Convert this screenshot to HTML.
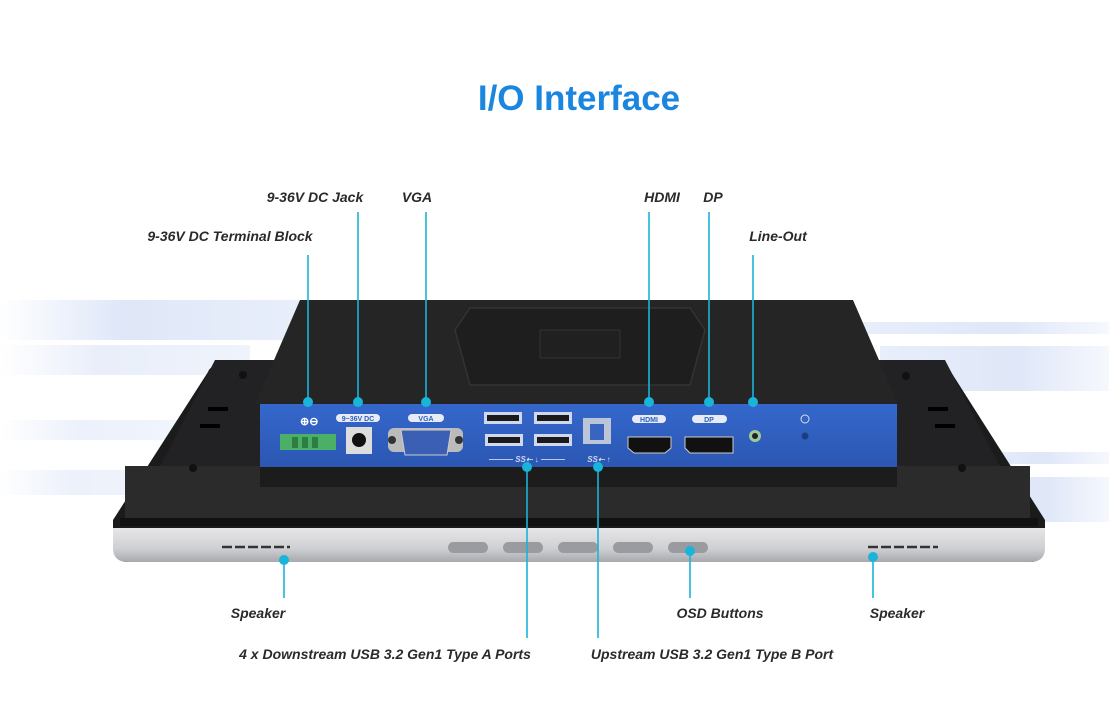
<!DOCTYPE html>
<html><head><meta charset="utf-8"><style>
html,body{margin:0;padding:0;background:#fff;}
svg{display:block;}
.l{font-family:"Liberation Sans",sans-serif;font-style:italic;font-weight:bold;font-size:14px;fill:#2a2a2a;}
.t{font-family:"Liberation Sans",sans-serif;font-size:7px;font-weight:bold;fill:#2e5fbf;}
</style></head><body>
<svg width="1109" height="703" viewBox="0 0 1109 703" xmlns="http://www.w3.org/2000/svg">
<defs>
<linearGradient id="sl" x1="0" x2="1"><stop offset="0" stop-color="#dfe7f8" stop-opacity="0"/><stop offset="0.4" stop-color="#dfe7f8"/><stop offset="1" stop-color="#e8eefa"/></linearGradient>
<linearGradient id="sr" x1="0" x2="1"><stop offset="0" stop-color="#e8eefa"/><stop offset="0.6" stop-color="#dfe7f8"/><stop offset="1" stop-color="#dfe7f8" stop-opacity="0.3"/></linearGradient>
<linearGradient id="sil" x1="0" y1="0" x2="0" y2="1"><stop offset="0" stop-color="#e6e6e8"/><stop offset="0.6" stop-color="#cfd0d3"/><stop offset="1" stop-color="#a8a9ad"/></linearGradient>
<linearGradient id="blu" x1="0" y1="0" x2="0" y2="1"><stop offset="0" stop-color="#3567cc"/><stop offset="1" stop-color="#2b57b2"/></linearGradient>
</defs>
<text x="579" y="110" text-anchor="middle" font-family="Liberation Sans,sans-serif" font-weight="bold" font-size="35" fill="#1a86e0">I/O Interface</text>
<!-- bg streaks -->
<rect x="0" y="300" width="300" height="40" fill="url(#sl)"/>
<rect x="0" y="345" width="250" height="30" fill="url(#sl)" opacity="0.7"/>
<rect x="0" y="420" width="200" height="20" fill="url(#sl)" opacity="0.6"/>
<rect x="0" y="470" width="180" height="25" fill="url(#sl)" opacity="0.6"/>
<rect x="860" y="322" width="249" height="12" fill="url(#sr)"/>
<rect x="880" y="346" width="229" height="45" fill="url(#sr)"/>
<rect x="950" y="452" width="159" height="12" fill="url(#sr)"/>
<rect x="950" y="477" width="159" height="45" fill="url(#sr)"/>
<!-- outer bezel -->
<path d="M208 372 Q210 366 218 366 L940 366 Q948 366 951 372 L1045 520 L1045 545 Q1045 562 1030 562 L128 562 Q113 562 113 545 L113 520 Z" fill="#1b1b1c"/>
<path d="M113 528 L1045 528 L1045 548 Q1045 562 1030 562 L128 562 Q113 562 113 548 Z" fill="url(#sil)"/>
<path d="M215 360 L945 360 L1020 505 L140 505 Z" fill="#222224"/>
<rect x="125" y="466" width="905" height="52" fill="#2b2b2c"/>
<rect x="120" y="518" width="918" height="8" fill="#111"/>
<!-- upper box -->
<path d="M300 300 L853 300 L898 404 L255 404 Z" fill="#252526"/>
<path d="M470 308 L690 308 L705 330 L690 385 L470 385 L455 330 Z" fill="#1e1e1f" stroke="#333" stroke-width="1.5"/>
<rect x="540" y="330" width="80" height="28" fill="#202021" stroke="#333"/>
<!-- blue panel -->
<rect x="260" y="404" width="637" height="63" fill="url(#blu)"/>
<rect x="260" y="467" width="637" height="20" fill="#1c1c1d"/>
<!-- screws -->
<g fill="#111"><circle cx="243" cy="375" r="4"/><circle cx="193" cy="468" r="4"/><circle cx="906" cy="376" r="4"/><circle cx="962" cy="468" r="4"/></g>
<g fill="#000"><rect x="208" y="407" width="20" height="4"/><rect x="200" y="424" width="20" height="4"/><rect x="928" y="407" width="20" height="4"/><rect x="935" y="424" width="20" height="4"/></g>
<!-- ports -->
<text x="300" y="425" font-size="11" fill="#fff" font-family="Liberation Sans" font-weight="bold">⊕⊖</text>
<rect x="280" y="434" width="56" height="16" fill="#4caf68"/>
<g fill="#2e7d42"><rect x="292" y="437" width="6" height="11"/><rect x="302" y="437" width="6" height="11"/><rect x="312" y="437" width="6" height="11"/></g>
<rect x="336" y="414" width="44" height="8" rx="4" fill="#e6ebf5"/><text class="t" x="358" y="421" text-anchor="middle">9~36V DC</text>
<rect x="346" y="427" width="26" height="27" fill="#ddd"/><circle cx="359" cy="440" r="7" fill="#111"/>
<rect x="408" y="414" width="36" height="8" rx="4" fill="#e6ebf5"/><text class="t" x="426" y="421" text-anchor="middle">VGA</text>
<rect x="388" y="428" width="75" height="24" rx="6" fill="#bbb"/><circle cx="392" cy="440" r="4" fill="#333"/><circle cx="459" cy="440" r="4" fill="#333"/>
<path d="M401 430 L451 430 L447 455 L405 455 Z" fill="#3a5fb5" stroke="#ccc"/>
<g fill="#cfd8ee"><rect x="484" y="412" width="38" height="12"/><rect x="534" y="412" width="38" height="12"/><rect x="485" y="434" width="38" height="12"/><rect x="534" y="434" width="38" height="12"/></g>
<g fill="#1a1a1a"><rect x="487" y="415" width="32" height="6"/><rect x="537" y="415" width="32" height="6"/><rect x="488" y="437" width="32" height="6"/><rect x="537" y="437" width="32" height="6"/></g>
<text x="527" y="462" font-size="8" fill="#cfd8ee" text-anchor="middle" font-family="Liberation Sans" font-style="italic" font-weight="bold">——— SS⇠ ↓ ———</text>
<rect x="583" y="418" width="28" height="26" fill="#bcc5d8"/><rect x="590" y="424" width="14" height="16" fill="#3a64c0"/>
<text x="599" y="462" font-size="8" fill="#cfd8ee" text-anchor="middle" font-family="Liberation Sans" font-style="italic" font-weight="bold">SS⇠ ↑</text>
<rect x="632" y="415" width="34" height="8" rx="4" fill="#e6ebf5"/><text class="t" x="649" y="422" text-anchor="middle">HDMI</text>
<path d="M628 437 L671 437 L671 448 L665 453 L634 453 L628 448 Z" fill="#111" stroke="#ccc"/>
<rect x="692" y="415" width="35" height="8" rx="4" fill="#e6ebf5"/><text class="t" x="709" y="422" text-anchor="middle">DP</text>
<path d="M685 437 L733 437 L733 453 L690 453 L685 448 Z" fill="#111" stroke="#ccc"/>
<circle cx="755" cy="436" r="6" fill="#9ccb9a"/><circle cx="755" cy="436" r="3" fill="#222"/>
<circle cx="805" cy="419" r="4" fill="none" stroke="#ddd"/><circle cx="805" cy="436" r="3.5" fill="#1a3d86"/>
<!-- buttons -->
<g fill="#9a9ba0"><rect x="448" y="542" width="40" height="11" rx="5.5"/><rect x="503" y="542" width="40" height="11" rx="5.5"/><rect x="558" y="542" width="40" height="11" rx="5.5"/><rect x="613" y="542" width="40" height="11" rx="5.5"/><rect x="668" y="542" width="40" height="11" rx="5.5"/></g>
<g stroke="#333" stroke-width="2.5" stroke-dasharray="10,3"><line x1="222" y1="547" x2="290" y2="547"/><line x1="868" y1="547" x2="938" y2="547"/></g>
<!-- leaders -->
<g stroke="#19b4d9" stroke-width="1.6" fill="none">
<line x1="308" y1="255" x2="308" y2="402"/><line x1="358" y1="212" x2="358" y2="402"/><line x1="426" y1="212" x2="426" y2="402"/>
<line x1="649" y1="212" x2="649" y2="402"/><line x1="709" y1="212" x2="709" y2="402"/><line x1="753" y1="255" x2="753" y2="402"/>
<line x1="527" y1="467" x2="527" y2="638"/><line x1="598" y1="467" x2="598" y2="638"/>
<line x1="284" y1="560" x2="284" y2="598"/><line x1="690" y1="551" x2="690" y2="598"/><line x1="873" y1="557" x2="873" y2="598"/>
</g>
<g fill="#19b4d9">
<circle cx="308" cy="402" r="5"/><circle cx="358" cy="402" r="5"/><circle cx="426" cy="402" r="5"/><circle cx="649" cy="402" r="5"/><circle cx="709" cy="402" r="5"/><circle cx="753" cy="402" r="5"/>
<circle cx="527" cy="467" r="5"/><circle cx="598" cy="467" r="5"/><circle cx="284" cy="560" r="5"/><circle cx="690" cy="551" r="5"/><circle cx="873" cy="557" r="5"/>
</g>
<!-- labels -->
<text class="l" x="230" y="241" text-anchor="middle">9-36V DC Terminal Block</text>
<text class="l" x="315" y="202" text-anchor="middle">9-36V DC Jack</text>
<text class="l" x="417" y="202" text-anchor="middle">VGA</text>
<text class="l" x="662" y="202" text-anchor="middle">HDMI</text>
<text class="l" x="713" y="202" text-anchor="middle">DP</text>
<text class="l" x="778" y="241" text-anchor="middle">Line-Out</text>
<text class="l" x="258" y="618" text-anchor="middle">Speaker</text>
<text class="l" x="720" y="618" text-anchor="middle">OSD Buttons</text>
<text class="l" x="897" y="618" text-anchor="middle">Speaker</text>
<text class="l" x="385" y="659" text-anchor="middle">4 x Downstream USB 3.2 Gen1 Type A Ports</text>
<text class="l" x="712" y="659" text-anchor="middle">Upstream USB 3.2 Gen1 Type B Port</text>
</svg>
</body></html>
